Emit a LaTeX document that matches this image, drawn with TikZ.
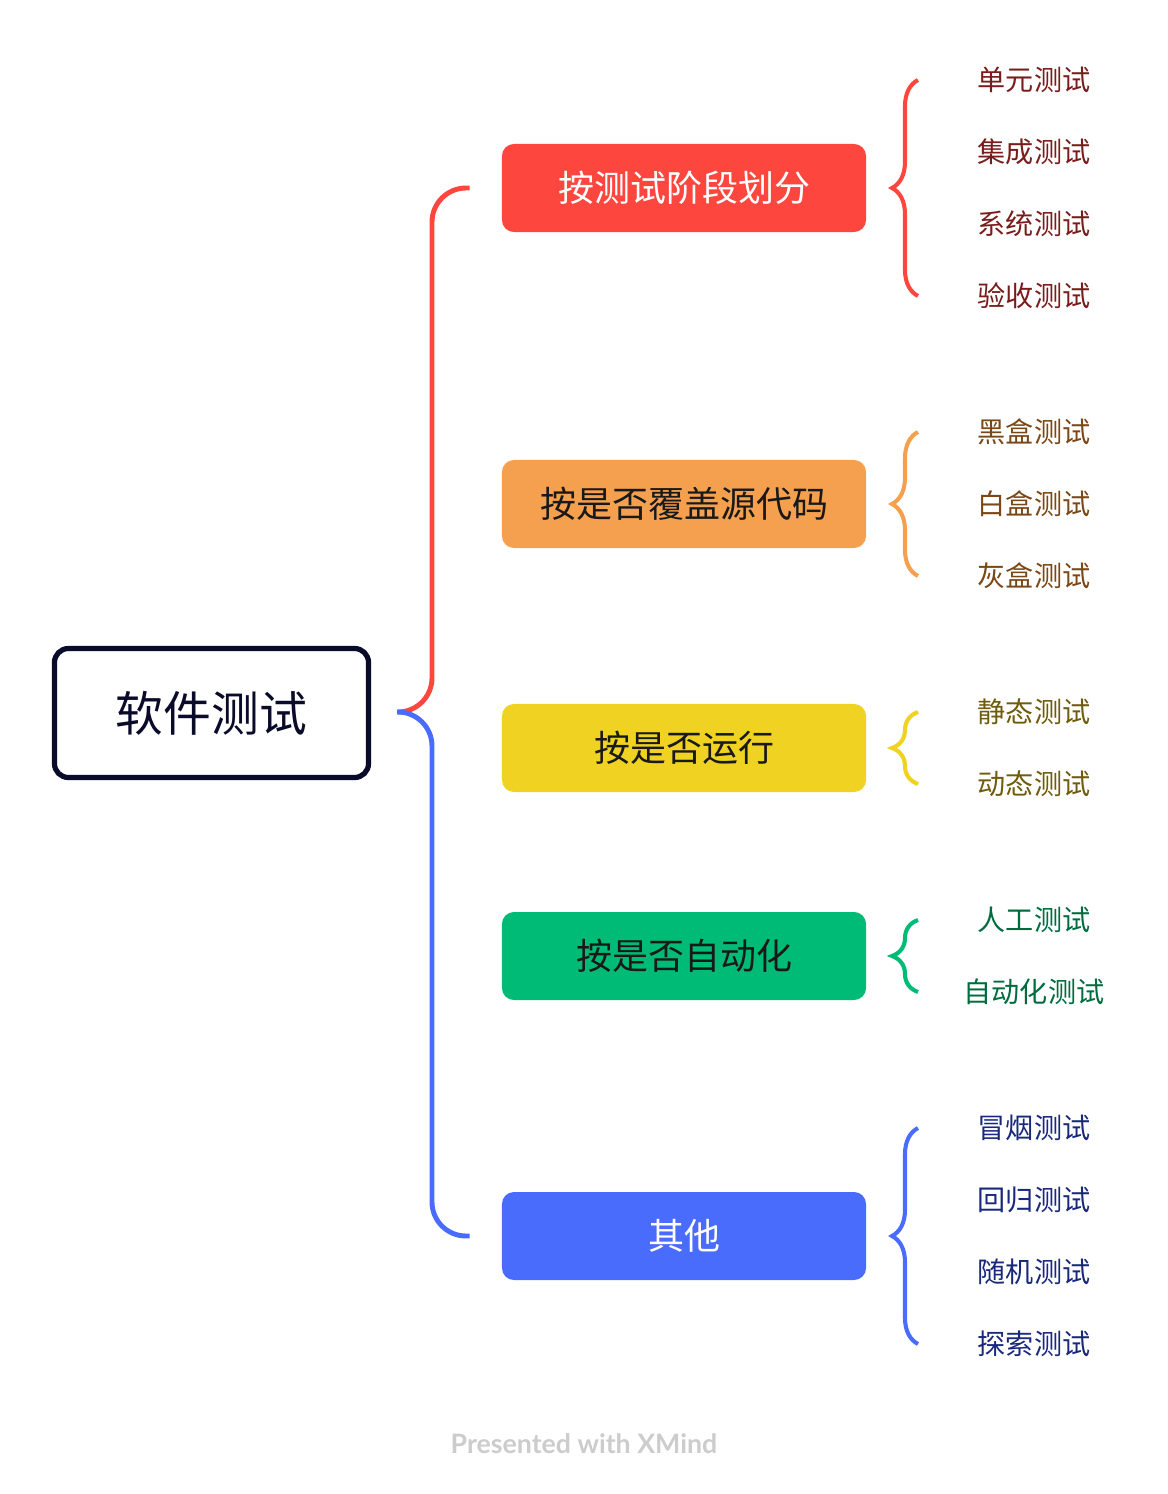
\documentclass[tikz,border=0pt]{standalone}
\usepackage{fontspec}
\setmainfont{Noto Sans CJK SC}
\newfontfamily\creditfont{Lato}
\usetikzlibrary{decorations.pathreplacing}

\definecolor{rootcol}{RGB}{10,10,42}
\definecolor{stagecol}{RGB}{252,70,62}
\definecolor{covercol}{RGB}{245,160,78}
\definecolor{runcol}{RGB}{240,211,34}
\definecolor{autocol}{RGB}{0,187,118}
\definecolor{othercol}{RGB}{74,108,252}
\definecolor{stageleaf}{RGB}{122,28,28}
\definecolor{coverleaf}{RGB}{122,72,22}
\definecolor{runleaf}{RGB}{110,92,12}
\definecolor{autoleaf}{RGB}{0,108,62}
\definecolor{otherleaf}{RGB}{26,40,124}
\definecolor{creditcol}{RGB}{204,204,204}

\begin{document}
\begin{tikzpicture}[
    x=0.025cm, y=-0.025cm,
    root/.style={draw=rootcol, line width=3.7pt, rounded corners=0.35cm,
                 minimum width=7.85cm, minimum height=3.225cm,
                 text=rootcol, font=\fontsize{34}{40}\selectfont},
    branch/.style={rounded corners=0.3cm, minimum width=9.1cm,
                   minimum height=2.2cm, font=\fontsize{25.6}{30}\selectfont},
    leaf/.style={font=\fontsize{20}{24}\selectfont},
    trunk/.style={line width=3.5pt, rounded corners=0.85cm, shorten >=0.8cm},
    groupbrace/.style={line width=2.9pt, decorate,
                       decoration={brace, amplitude=18.5pt}}
]
\useasboundingbox (0,0) rectangle (1168,1494);

% Central topic
\node[root] (root) at (211.5, 713) {软件测试};
\coordinate (hub) at (397, 712);

% Main branches
\node[branch, fill=stagecol, text=white]   (stage) at (684, 188)  {按测试阶段划分};
\node[branch, fill=covercol, text=black!90] (cover) at (684, 504)  {按是否覆盖源代码};
\node[branch, fill=runcol, text=black!90]   (run)   at (684, 748)  {按是否运行};
\node[branch, fill=autocol, text=black!90]  (auto)  at (684, 956)  {按是否自动化};
\node[branch, fill=othercol, text=white]    (other) at (684, 1236) {其他};

% Leaves
\node[leaf, text=stageleaf] (unit)   at (1034, 80)  {单元测试};
\node[leaf, text=stageleaf] (integ)  at (1034, 152) {集成测试};
\node[leaf, text=stageleaf] (system) at (1034, 224) {系统测试};
\node[leaf, text=stageleaf] (accept) at (1034, 296) {验收测试};

\node[leaf, text=coverleaf] (black) at (1034, 432) {黑盒测试};
\node[leaf, text=coverleaf] (white) at (1034, 504) {白盒测试};
\node[leaf, text=coverleaf] (gray)  at (1034, 576) {灰盒测试};

\node[leaf, text=runleaf] (static)  at (1034, 712) {静态测试};
\node[leaf, text=runleaf] (dynamic) at (1034, 784) {动态测试};

\node[leaf, text=autoleaf] (manual)   at (1034, 920) {人工测试};
\node[leaf, text=autoleaf] (autotest) at (1034, 992) {自动化测试};

\node[leaf, text=otherleaf] (smoke)   at (1034, 1128) {冒烟测试};
\node[leaf, text=otherleaf] (regress) at (1034, 1200) {回归测试};
\node[leaf, text=otherleaf] (random)  at (1034, 1272) {随机测试};
\node[leaf, text=otherleaf] (explore) at (1034, 1344) {探索测试};

\node[font=\creditfont\bfseries\fontsize{19}{22}\selectfont, text=creditcol]
    (credit) at (584, 1444) {Presented with XMind};

% Trunk lines
\draw[trunk, stagecol] (hub) -- ++(35,0) |- (stage.west);
\draw[trunk, othercol] (hub) -- ++(35,0) |- (other.west);

% Braces
\coordinate (bx) at (918, 0);
\draw[groupbrace, stagecol] (bx |- accept) -- (bx |- unit);
\draw[groupbrace, covercol] (bx |- gray) -- (bx |- black);
\draw[groupbrace, runcol]   (bx |- dynamic) -- (bx |- static);
\draw[groupbrace, autocol]  (bx |- autotest) -- (bx |- manual);
\draw[groupbrace, othercol] (bx |- explore) -- (bx |- smoke);

\end{tikzpicture}
\end{document}
